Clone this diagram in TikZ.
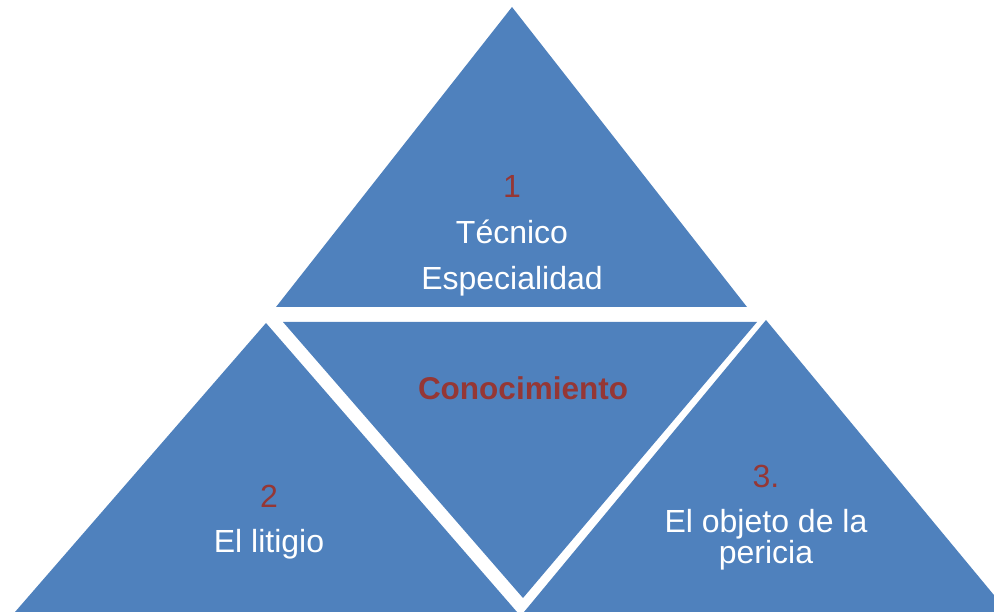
\documentclass[tikz,border=0pt]{standalone}
\usepackage{fontspec}
\setmainfont{Liberation Sans}
\usepackage{tikz}
\usetikzlibrary{positioning}
\usepackage{xcolor}
\definecolor{triblue}{RGB}{79,129,189}
\definecolor{numred}{RGB}{149,55,53}
\tikzstyle{tri} = [fill=triblue, draw=none]
\tikzstyle{txt} = [text=white, align=center, inner sep=0pt, font=\fontsize{32}{31}\selectfont]

\begin{document}
\begin{tikzpicture}[x=1pt, y=-1pt]
\useasboundingbox (0,0) rectangle (994,612);
\clip (0,0) rectangle (994,612);

% Triangles
\fill[tri] (512,7) -- (747,307) -- (276,307) -- cycle;
\fill[tri] (283,322) -- (757,322) -- (523,598) -- cycle;
\fill[tri] (266,323) -- (517,612) -- (15,612) -- cycle;
\fill[tri] (766,320) -- (1008,612) -- (524,612) -- cycle;

% Labels (anchored on the last line)
\node[txt, anchor=base] (tecnico) at (512,290) {\textcolor{numred}{1}\\[15pt] Técnico\\[15pt] Especialidad};
\node[txt, anchor=base, text=numred, font=\fontsize{31.5}{31}\selectfont\bfseries] (conoc) at (523,400) {Conocimiento};
\node[txt, anchor=base] (litigio) at (269,552) {\textcolor{numred}{2}\\[14pt] El litigio};
\node[txt, anchor=base] (objeto) at (766,563) {\textcolor{numred}{3.}\\[14pt] El objeto de la\\ pericia};
\end{tikzpicture}
\end{document}
